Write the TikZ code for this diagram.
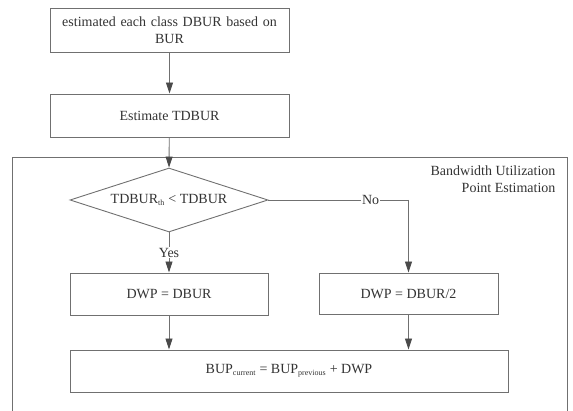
\documentclass[tikz,border=0pt]{standalone}
\usepackage{fontspec}
\setmainfont{Liberation Serif}
\usetikzlibrary{shapes.geometric,arrows.meta}
\definecolor{linegray}{HTML}{707070}
\definecolor{tipgray}{HTML}{4A4A4A}
\definecolor{txtgray}{HTML}{333333}
\tikzset{
  x=1pt,y=1pt,
  every node/.style={text=txtgray,font=\fontsize{14}{17}\selectfont},
  procbox/.style={draw=linegray,line width=0.9pt,rectangle,inner sep=2pt,align=center},
  decide/.style={draw=linegray,line width=0.9pt,diamond,aspect=3,inner sep=0pt,
    minimum width=198pt,minimum height=64pt},
  flow/.style={draw=linegray,line width=0.9pt,
    -{Triangle[width=7pt,length=11pt,color=tipgray,fill=tipgray]}},
  plain/.style={draw=linegray,line width=0.9pt},
  framebox/.style={draw=linegray,line width=0.9pt},
}
\newcommand{\smallsub}[1]{\textsubscript{\fontsize{8}{8}\selectfont #1}}
\begin{document}
\begin{tikzpicture}
\useasboundingbox (0,0) rectangle (573,-411);

% enclosing region of the estimation stage (open at the bottom)
\draw[framebox] (12,-411) -- (12,-157) -- (567,-157) -- (567,-411);
\node[anchor=north east,align=right] (lbl) at (559,-162)
  {Bandwidth Utilization\\Point Estimation};

% process steps
\node[procbox,minimum width=239pt,minimum height=44pt,text width=230pt]
  (est) at (169.5,-30) {estimated each class DBUR based on\\BUR};
\node[procbox,minimum width=239pt,minimum height=43pt]
  (tdb) at (169.5,-115.5) {Estimate TDBUR};
\node[decide] (cmp) at (169,-200) {TDBUR\smallsub{th} < TDBUR};
\node[procbox,minimum width=198pt,minimum height=42pt]
  (yes) at (169,-294) {DWP = DBUR};
\node[procbox,minimum width=179pt,minimum height=41pt]
  (no) at (408.5,-293.5) {DWP = DBUR/2};
\node[procbox,minimum width=438pt,minimum height=42pt]
  (bup) at (289,-371) {BUP\smallsub{current} = BUP\smallsub{previous} + DWP};

% connectors
\coordinate (turn) at (no.north |- cmp.east);
\draw[flow] (est) -- (tdb);
\draw[flow] (tdb) -- (cmp.north);
\draw[flow] (cmp.south) -- node[fill=white,inner sep=1pt,pos=0.5] {Yes} (yes.north);
\draw[plain] (cmp.east) -- node[fill=white,inner sep=1pt,pos=0.73] {No} (turn);
\draw[flow] (turn) -- (no.north);
\draw[flow] (yes.south) -- (yes.south |- bup.north);
\draw[flow] (no.south) -- (no.south |- bup.north);
\end{tikzpicture}
\end{document}
